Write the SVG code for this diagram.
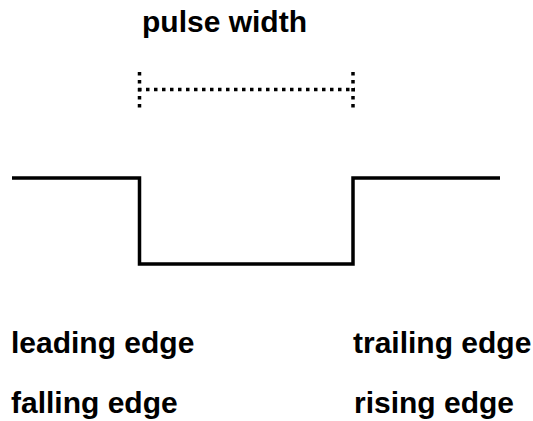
<svg xmlns="http://www.w3.org/2000/svg" width="533" height="421" viewBox="0 0 533 421">
<style>
.lbl{font-family:"Liberation Sans",Arial,Helvetica,sans-serif;font-weight:bold;font-size:30px;fill:#000}
.dot{fill:none;stroke:#000;stroke-width:3.5;stroke-dasharray:3.5 4.5}
.sig{fill:none;stroke:#000;stroke-width:3.5;stroke-linejoin:miter}
</style>
<rect width="533" height="421" fill="#fff"/>
<g id="pulse-width">
<text class="lbl" x="142" y="32">pulse width</text>
<line class="dot" x1="139.5" y1="72" x2="139.5" y2="108"/>
<line class="dot" x1="353" y1="72" x2="353" y2="108"/>
<line class="dot" x1="138" y1="89.5" x2="355" y2="89.5"/>
</g>
<g id="signal">
<path class="sig" d="M12,178 H139.5 V264 H353 V178 H500"/>
</g>
<g id="labels">
<text class="lbl" x="11" y="353">leading edge</text>
<text class="lbl" x="353" y="353">trailing edge</text>
<text class="lbl" x="11" y="413">falling edge</text>
<text class="lbl" x="354" y="413">rising edge</text>
</g>
</svg>
